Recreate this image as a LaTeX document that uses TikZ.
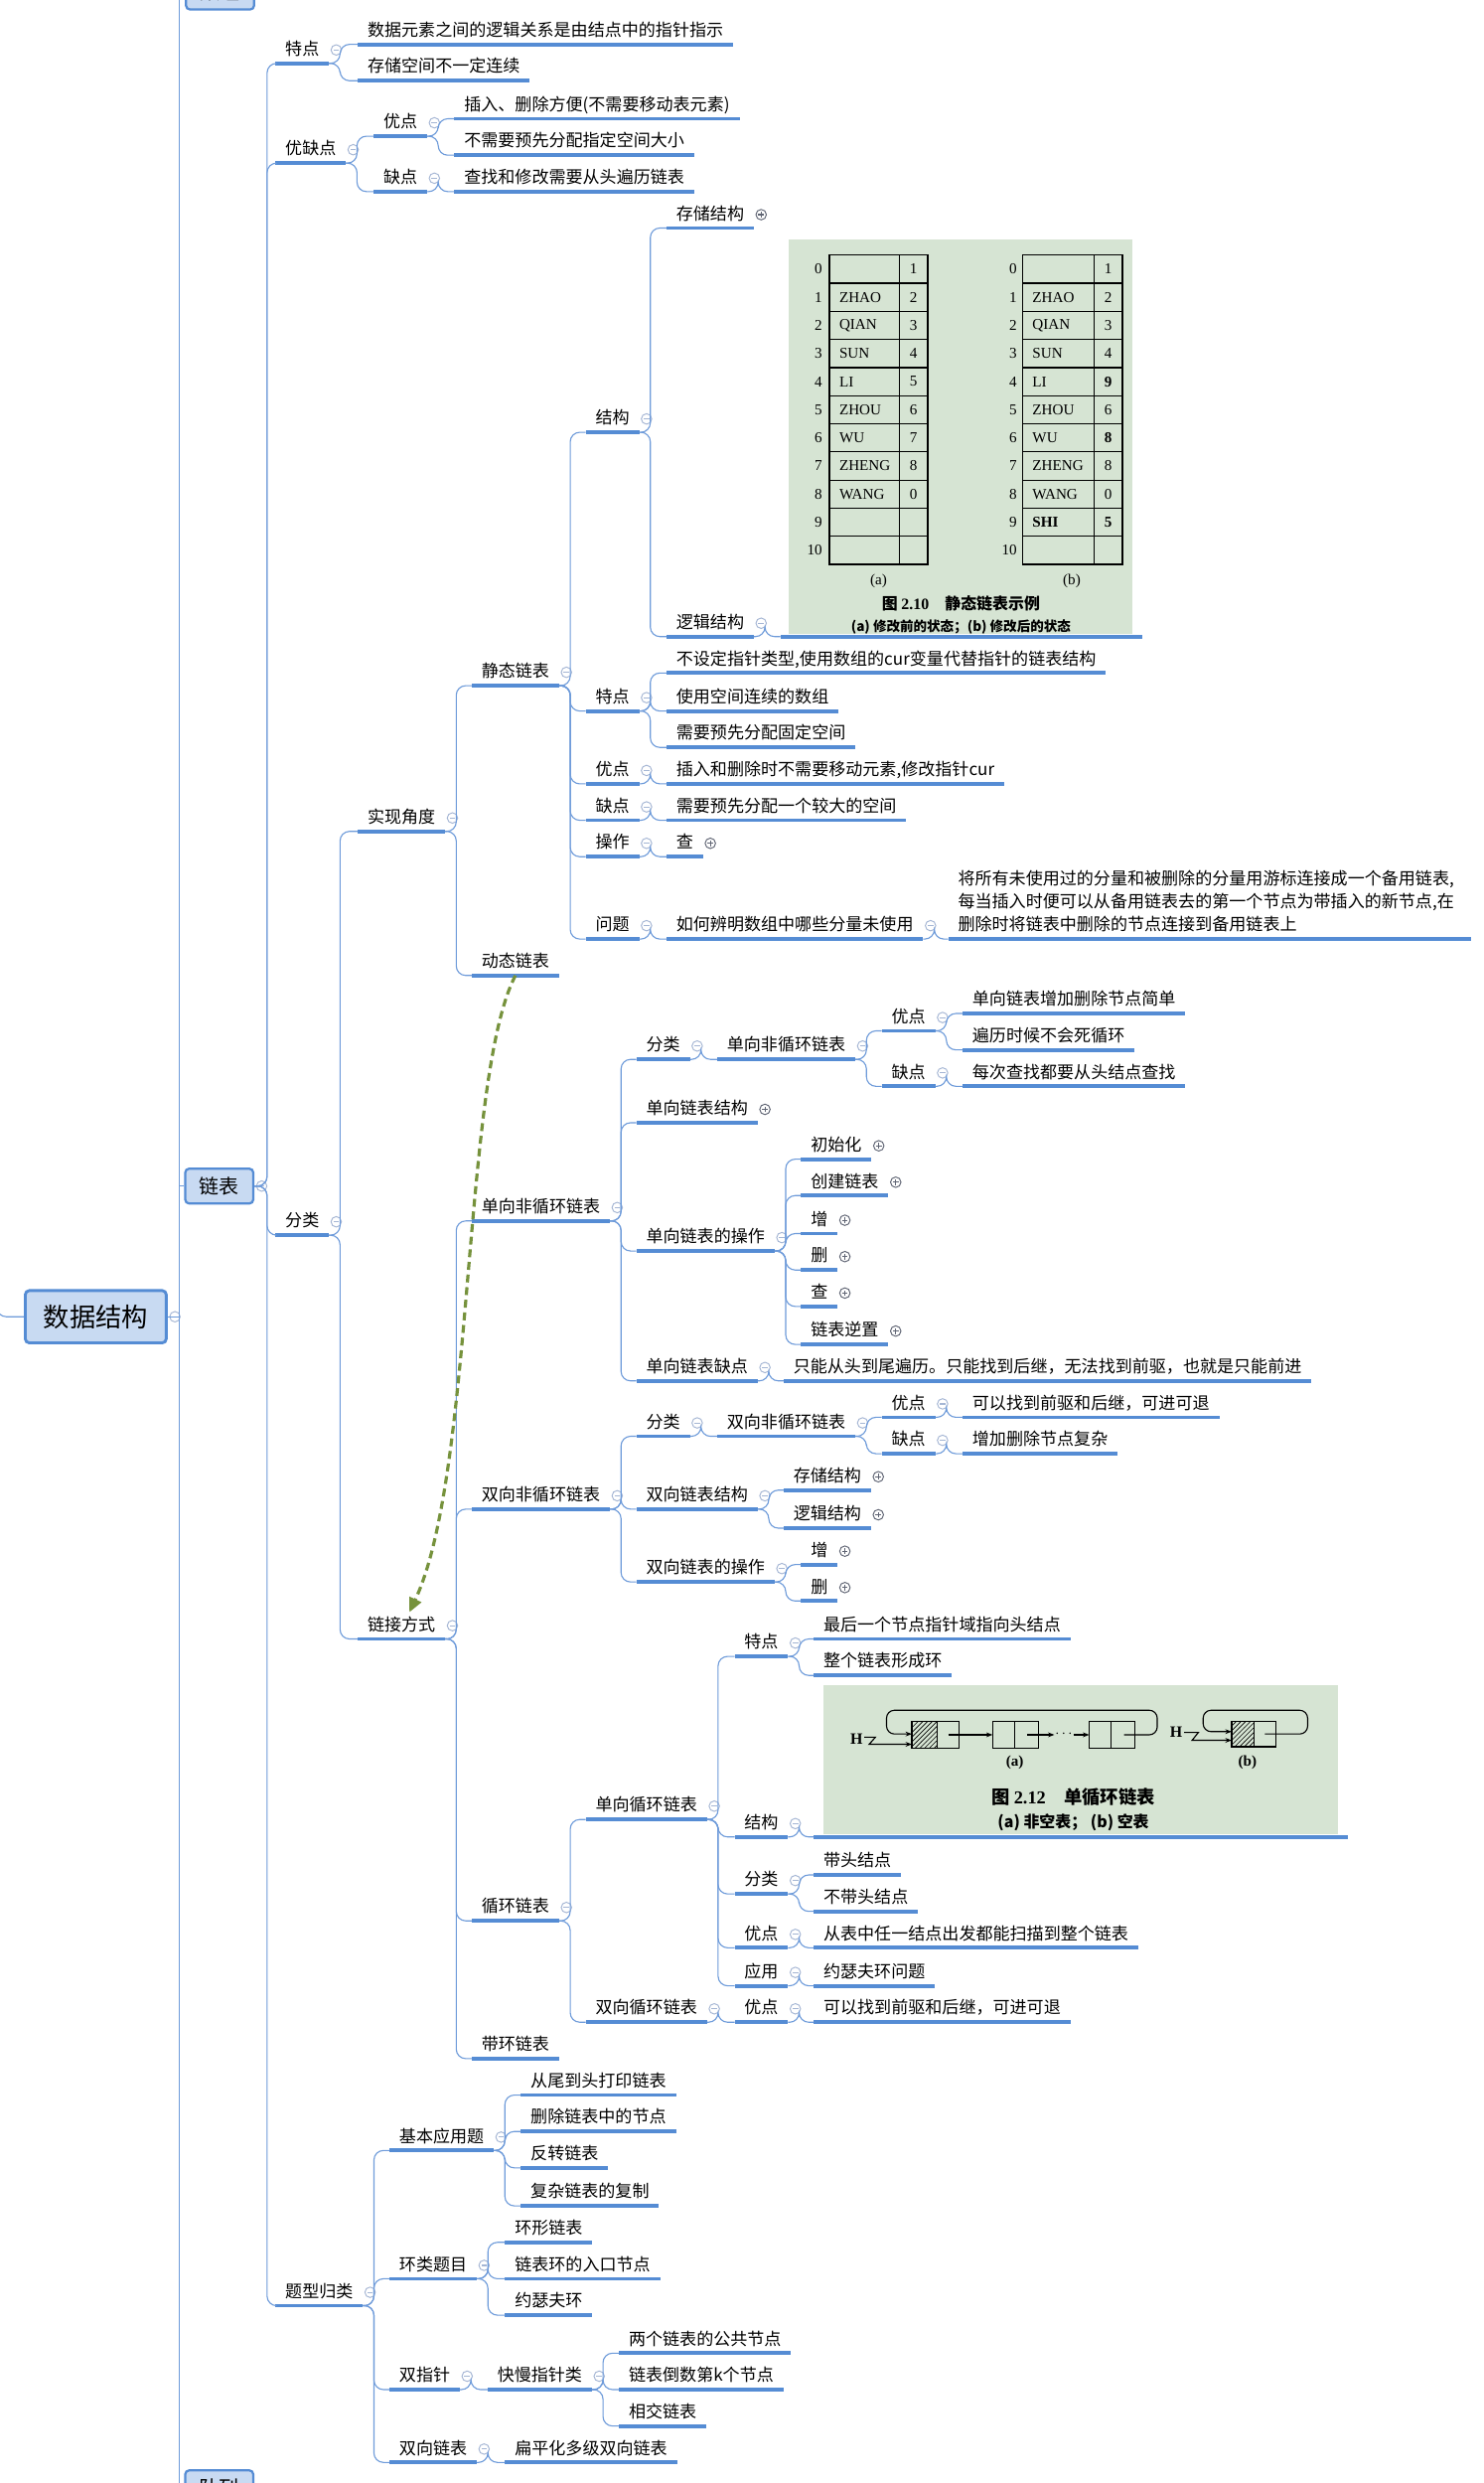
\documentclass[tikz,border=0pt]{standalone}
\usepackage{fontspec}
\setmainfont{Noto Sans CJK SC}
\newfontfamily\figserif{Liberation Serif}
\usepackage{tikz}
\usetikzlibrary{arrows.meta,patterns}

\begin{document}
\begin{tikzpicture}[x=1pt, y=-1pt, label distance=1pt]
% Define colors
\definecolor{ulblue}{RGB}{85,140,212}
\definecolor{lnblue}{RGB}{110,155,218}
\definecolor{boxfill}{RGB}{200,218,242}
\definecolor{relgreen}{RGB}{118,146,60}
\definecolor{figbg}{RGB}{214,228,211}
\definecolor{foldgray}{RGB}{165,182,212}
\definecolor{plusgray}{RGB}{95,100,115}

% Styles
\tikzstyle{uline} = [draw=ulblue, line width=2.4pt]
\tikzstyle{conn} = [draw=lnblue, line width=0.7pt, rounded corners=6pt]
\tikzstyle{topic} = [anchor=south west, inner xsep=6pt, inner ysep=2.5pt, text height=9pt, text depth=2.5pt, font=\fontsize{10.7}{12}\selectfont, append after command={\pgfextra{\let\topicnode=\tikzlastnode} (\topicnode.south west) edge[uline] (\topicnode.south east)}]
\tikzstyle{foldminus} = [circle, draw=foldgray, fill=white, line width=0.6pt, minimum size=6.6pt, inner sep=0pt, text height=0pt, text depth=0pt, font=\tiny, path picture={\draw[foldgray, line width=0.7pt] ([xshift=-1.8pt]path picture bounding box.center) -- ([xshift=1.8pt]path picture bounding box.center);}]
\tikzstyle{foldplus} = [circle, draw=plusgray, fill=white, line width=0.6pt, minimum size=6.6pt, inner sep=0pt, text height=0pt, text depth=0pt, font=\tiny, path picture={\draw[plusgray, line width=0.7pt] ([xshift=-1.8pt]path picture bounding box.center) -- ([xshift=1.8pt]path picture bounding box.center) ([yshift=-1.8pt]path picture bounding box.center) -- ([yshift=1.8pt]path picture bounding box.center);}]
\tikzstyle{fm} = [label={[foldminus]right:{}}]
\tikzstyle{fp} = [label={[foldplus]right:{}}]
\tikzstyle{mainbox} = [draw=ulblue, fill=boxfill, line width=1.4pt, rounded corners=2.5pt, inner sep=0pt, font=\fontsize{12.5}{14}\selectfont, minimum width=43pt, minimum height=22pt]
\tikzstyle{rootbox} = [mainbox, font=\fontsize{16.5}{18}\selectfont, minimum width=89pt, minimum height=33pt, line width=1.8pt]
\tikzstyle{rel} = [draw=relgreen, line width=2pt, dash pattern=on 5pt off 3pt, -{Triangle[length=9pt,width=8pt]}]
\tikzstyle{cell} = [draw=black, line width=0.8pt]
\tikzstyle{figtxt} = [inner sep=0.5pt, font=\figserif\fontsize{9.5}{10}\selectfont]
\tikzstyle{figcap} = [inner sep=0.5pt, font=\bfseries\fontsize{10}{11}\selectfont]
\tikzstyle{figarrow} = [draw=black, line width=0.7pt, -{Stealth[length=4pt,width=3pt]}]

\useasboundingbox (0,0) rectangle (937,1568);
\fill[white] (0,0) rectangle (937,1568);

% Column X positions
\def\colA{174}
\def\colB{226}
\def\colC{298}
\def\colD{370}
\def\colE{421}

% Root and spine
\coordinate (spinetop) at (113,-30);
\coordinate (spinebot) at (113,1600);
\coordinate (inlet) at (-2,790);
\node[rootbox, fm] (root) at (60.5,831.5) {数据结构};
\node[mainbox] (arr) at (139,-5) {数组};
\node[mainbox, fm] (lb) at (138.5,749) {链表};
\node[mainbox] (que) at (138.5,1571) {队列};

% Linked list: first level
\node[topic, fm] (tz) at (\colA,40) {特点};
\node[topic, fm] (yqd) at (\colA,103) {优缺点};
\node[topic, fm] (fl) at (\colA,780) {分类};
\node[topic, fm] (tx) at (\colA,1456) {题型归类};

\node[topic] (tz1) at (\colB,28) {数据元素之间的逻辑关系是由结点中的指针指示};
\node[topic] (tz2) at (\colB,51) {存储空间不一定连续};
\node[topic, fm] (pro) at (236,86) {优点};
\node[topic, fm] (con) at (236,121) {缺点};
\node[topic] (pro1) at (287,75) {插入、删除方便(不需要移动表元素)};
\node[topic] (pro2) at (287,98) {不需要预先分配指定空间大小};
\node[topic] (con1) at (287,121) {查找和修改需要从头遍历链表};

% Implementation view
\node[topic, fm] (impl) at (\colB,525) {实现角度};
\node[topic, fm] (stat) at (\colC,433) {静态链表};
\node[topic] (dyn) at (\colC,616) {动态链表};
\node[topic, fm] (sstr) at (\colD,273) {结构};
\node[topic, fm] (sfeat) at (\colD,449) {特点};
\node[topic, fm] (spro) at (\colD,495) {优点};
\node[topic, fm] (scon) at (\colD,518) {缺点};
\node[topic, fm] (sop) at (\colD,541) {操作};
\node[topic, fm] (sq) at (\colD,593) {问题};
\node[topic, fp] (sstore) at (\colE,144) {存储结构};
\node[topic, fm] (slogic) at (\colE,402) {逻辑结构};
\node[topic] (sf1) at (\colE,425) {不设定指针类型,使用数组的cur变量代替指针的链表结构};
\node[topic] (sf2) at (\colE,449) {使用空间连续的数组};
\node[topic] (sf3) at (\colE,472) {需要预先分配固定空间};
\node[topic] (sp1) at (\colE,495) {插入和删除时不需要移动元素,修改指针cur};
\node[topic] (sc1) at (\colE,518) {需要预先分配一个较大的空间};
\node[topic, fp] (so1) at (\colE,541) {查};
\node[topic, fm] (sq1) at (\colE,593) {如何辨明数组中哪些分量未使用};
\node[topic] (sq2) at (599,593) {\parbox[b]{318pt}{\fontsize{10.7}{14.5}\selectfont 将所有未使用过的分量和被删除的分量用游标连接成一个备用链表,\\每当插入时便可以从备用链表去的第一个节点为带插入的新节点,在\\删除时将链表中删除的节点连接到备用链表上}};

% Static list picture
\fill[figbg] (498,151) rectangle (715,400.5);
\node[topic, minimum width=228pt, minimum height=252pt] (fig1) at (493,402) {};
\foreach \r/\nm/\nx in {0//1,1/ZHAO/2,2/QIAN/3,3/SUN/4,4/LI/5,5/ZHOU/6,6/WU/7,7/ZHENG/8,8/WANG/0,9//,10//} {
  \draw[cell] (524,{161+17.77*\r}) rectangle (568,{178.77+17.77*\r});
  \draw[cell] (568,{161+17.77*\r}) rectangle (586,{178.77+17.77*\r});
  \node[figtxt, anchor=east] (ta\r) at (520,{169.9+17.77*\r}) {\r};
  \node[figtxt, anchor=west] (tb\r) at (529.5,{169.9+17.77*\r}) {\nm};
  \node[figtxt] (tc\r) at (577,{169.9+17.77*\r}) {\nx};
}
\foreach \r/\nm/\nx in {0//1,1/ZHAO/2,2/QIAN/3,3/SUN/4,4/LI/\textbf{9},5/ZHOU/6,6/WU/\textbf{8},7/ZHENG/8,8/WANG/0,9/\textbf{SHI}/\textbf{5},10//} {
  \draw[cell] (646,{161+17.77*\r}) rectangle (691,{178.77+17.77*\r});
  \draw[cell] (691,{161+17.77*\r}) rectangle (709,{178.77+17.77*\r});
  \node[figtxt, anchor=east] (ra\r) at (643,{169.9+17.77*\r}) {\r};
  \node[figtxt, anchor=west] (rb\r) at (651.5,{169.9+17.77*\r}) {\nm};
  \node[figtxt] (rc\r) at (700,{169.9+17.77*\r}) {\nx};
}
\node[figtxt] (capa) at (555,367) {(a)};
\node[figtxt] (capb) at (677,367) {(b)};
\node[figcap] (cap1) at (607,381) {图 {\figserif 2.10}\quad 静态链表示例};
\node[figcap, font=\bfseries\fontsize{8.5}{9}\selectfont] (cap2) at (607,396) {(a) 修改前的状态；(b) 修改后的状态};

% Link styles
\node[topic, fm] (link) at (\colB,1035) {链接方式};
\node[topic, fm] (single) at (\colC,771) {单向非循环链表};
\node[topic, fm] (double) at (\colC,953) {双向非循环链表};
\node[topic, fm] (circ) at (\colC,1213) {循环链表};
\node[topic] (ring) at (\colC,1300) {带环链表};

% Singly linked, non circular
\node[topic, fm] (scat) at (402,669) {分类};
\node[topic, fp] (sstruct) at (402,709) {单向链表结构};
\node[topic, fm] (sops) at (402,790) {单向链表的操作};
\node[topic, fm] (sweak) at (402,872) {单向链表缺点};
\node[topic, fm] (scat1) at (453,669) {单向非循环链表};
\node[topic, fm] (scpro) at (557,651) {优点};
\node[topic, fm] (sccon) at (557,686) {缺点};
\node[topic] (scp1) at (608,640) {单向链表增加删除节点简单};
\node[topic] (scp2) at (608,663) {遍历时候不会死循环};
\node[topic] (scc1) at (608,686) {每次查找都要从头结点查找};
\node[topic, fp] (op1) at (506,732) {初始化};
\node[topic, fp] (op2) at (506,755) {创建链表};
\node[topic, fp] (op3) at (506,779) {增};
\node[topic, fp] (op4) at (506,802) {删};
\node[topic, fp] (op5) at (506,825) {查};
\node[topic, fp] (op6) at (506,849) {链表逆置};
\node[topic] (sw1) at (495,872) {只能从头到尾遍历。只能找到后继，无法找到前驱，也就是只能前进};

% Doubly linked, non circular
\node[topic, fm] (dcat) at (402,907) {分类};
\node[topic, fm] (dstr) at (402,953) {双向链表结构};
\node[topic, fm] (dops) at (402,999) {双向链表的操作};
\node[topic, fm] (dcat1) at (453,907) {双向非循环链表};
\node[topic, fm] (dpro) at (557,895) {优点};
\node[topic, fm] (dcon) at (557,918) {缺点};
\node[topic] (dp1) at (608,895) {可以找到前驱和后继，可进可退};
\node[topic] (dc1) at (608,918) {增加删除节点复杂};
\node[topic, fp] (ds1) at (495,941) {存储结构};
\node[topic, fp] (ds2) at (495,965) {逻辑结构};
\node[topic, fp] (dop1) at (506,988) {增};
\node[topic, fp] (dop2) at (506,1011) {删};

% Circular lists
\node[topic, fm] (cone) at (\colD,1149) {单向循环链表};
\node[topic, fm] (ctwo) at (\colD,1277) {双向循环链表};
\node[topic, fm] (cfeat) at (464,1046) {特点};
\node[topic, fm] (cstr) at (464,1160) {结构};
\node[topic, fm] (ccat) at (464,1196) {分类};
\node[topic, fm] (cpro) at (464,1230) {优点};
\node[topic, fm] (cuse) at (464,1254) {应用};
\node[topic, fm] (ctpro) at (464,1277) {优点};
\node[topic] (cf1) at (514,1035) {最后一个节点指针域指向头结点};
\node[topic] (cf2) at (514,1058) {整个链表形成环};
\node[topic] (cc1) at (514,1184) {带头结点};
\node[topic] (cc2) at (514,1207) {不带头结点};
\node[topic] (cp1) at (514,1230) {从表中任一结点出发都能扫描到整个链表};
\node[topic] (cu1) at (514,1254) {约瑟夫环问题};
\node[topic] (ctp1) at (514,1277) {可以找到前驱和后继，可进可退};

% Circular list picture
\fill[figbg] (520,1064) rectangle (845,1158.5);
\node[topic, minimum width=337pt, minimum height=98pt] (fig2) at (514,1160) {};
\node[figtxt, font=\figserif\bfseries\fontsize{10}{11}\selectfont] (ha) at (541,1098) {H};
\draw[cell, pattern=north east lines] (576,1087) rectangle (592,1104);
\draw[cell] (592,1087) rectangle (606,1104);
\draw[cell] (627,1087) rectangle (641,1104);
\draw[cell] (641,1087) rectangle (656,1104);
\draw[cell] (688,1087) rectangle (702,1104);
\draw[cell] (702,1087) rectangle (717,1104);
\draw[figarrow] (599,1095.5) -- (627,1095.5);
\draw[figarrow] (649,1095.5) -- (666,1095.5);
\node[figtxt] (dots) at (672,1095) {$\cdots$};
\draw[figarrow] (678,1095.5) -- (688,1095.5);
\draw[figarrow, rounded corners=5pt] (710,1095.5) -- (731,1095.5) -- (731,1080) -- (560,1080) -- (560,1095) -- (576,1095);
\draw[figarrow] (546,1097) -- (553,1097) -- (549,1101.5) -- (576,1101.5);
\node[figtxt, font=\figserif\bfseries\fontsize{10}{11}\selectfont] (hb) at (743,1094) {H};
\draw[cell, pattern=north east lines] (778,1087) rectangle (792,1103);
\draw[cell] (792,1087) rectangle (806,1103);
\draw[figarrow, rounded corners=5pt] (799,1095) -- (826,1095) -- (826,1080) -- (760,1080) -- (760,1093.5) -- (778,1093.5);
\draw[figarrow] (748,1094) -- (757,1094) -- (753,1099) -- (778,1099);
\node[figtxt, font=\figserif\bfseries\fontsize{9.5}{10}\selectfont] (capc) at (641,1113) {(a)};
\node[figtxt, font=\figserif\bfseries\fontsize{9.5}{10}\selectfont] (capd) at (788,1113) {(b)};
\node[figcap, font=\bfseries\fontsize{11.5}{13}\selectfont] (cap3) at (678,1135) {图 {\figserif 2.12}\quad 单循环链表};
\node[figcap, font=\bfseries\fontsize{10}{11}\selectfont] (cap4) at (678,1151) {(a) 非空表；\ (b) 空表};

% Problem types
\node[topic, fm] (basic) at (246,1358) {基本应用题};
\node[topic, fm] (loopq) at (246,1439) {环类题目};
\node[topic, fm] (twoptr) at (246,1509) {双指针};
\node[topic, fm] (dlist) at (246,1555) {双向链表};
\node[topic] (b1) at (329,1323) {从尾到头打印链表};
\node[topic] (b2) at (329,1346) {删除链表中的节点};
\node[topic] (b3) at (329,1369) {反转链表};
\node[topic] (b4) at (329,1393) {复杂链表的复制};
\node[topic] (l1) at (319,1416) {环形链表};
\node[topic] (l2) at (319,1439) {链表环的入口节点};
\node[topic] (l3) at (319,1462) {约瑟夫环};
\node[topic, fm] (fast) at (308,1509) {快慢指针类};
\node[topic] (f1) at (391,1486) {两个链表的公共节点};
\node[topic] (f2) at (391,1509) {链表倒数第k个节点};
\node[topic] (f3) at (391,1532) {相交链表};
\node[topic] (dl1) at (319,1555) {扁平化多级双向链表};

% Connectors
\draw[conn] (spinetop) -- (spinebot);
\draw[conn] (inlet) |- (root.west);
\draw[conn] (root.east) -- (root.east -| spinetop);
\draw[conn] (arr.west -| spinetop) -- (arr.west);
\draw[conn] (lb.west -| spinetop) -- (lb.west);
\draw[conn] (que.west -| spinetop) -- (que.west);
\foreach \c in {tz,yqd,fl,tx} \draw[conn] (lb.east) -- ++(8,0) |- (\c.south west);
\foreach \p/\c in {tz/tz1,tz/tz2,yqd/pro,yqd/con,pro/pro1,pro/pro2,con/con1,
  fl/impl,fl/link,impl/stat,impl/dyn,
  stat/sstr,stat/sfeat,stat/spro,stat/scon,stat/sop,stat/sq,
  sstr/sstore,sstr/slogic,slogic/fig1,sfeat/sf1,sfeat/sf2,sfeat/sf3,
  spro/sp1,scon/sc1,sop/so1,sq/sq1,sq1/sq2,
  link/single,link/double,link/circ,link/ring,
  single/scat,single/sstruct,single/sops,single/sweak,
  scat/scat1,scat1/scpro,scat1/sccon,scpro/scp1,scpro/scp2,sccon/scc1,
  sops/op1,sops/op2,sops/op3,sops/op4,sops/op5,sops/op6,sweak/sw1,
  double/dcat,double/dstr,double/dops,dcat/dcat1,dcat1/dpro,dcat1/dcon,dpro/dp1,dcon/dc1,
  dstr/ds1,dstr/ds2,dops/dop1,dops/dop2,
  circ/cone,circ/ctwo,cone/cfeat,cone/cstr,cone/ccat,cone/cpro,cone/cuse,
  cfeat/cf1,cfeat/cf2,cstr/fig2,ccat/cc1,ccat/cc2,cpro/cp1,cuse/cu1,ctwo/ctpro,ctpro/ctp1,
  tx/basic,tx/loopq,tx/twoptr,tx/dlist,basic/b1,basic/b2,basic/b3,basic/b4,
  loopq/l1,loopq/l2,loopq/l3,twoptr/fast,fast/f1,fast/f2,fast/f3,dlist/dl1}
  \draw[conn] (\p.south east) -- ++(7,0) |- (\c.south west);

% Relationship
\draw[rel] (dyn.south) .. controls (292,680) and (300,930) .. ([xshift=5pt]link.north);

\end{tikzpicture}
\end{document}
